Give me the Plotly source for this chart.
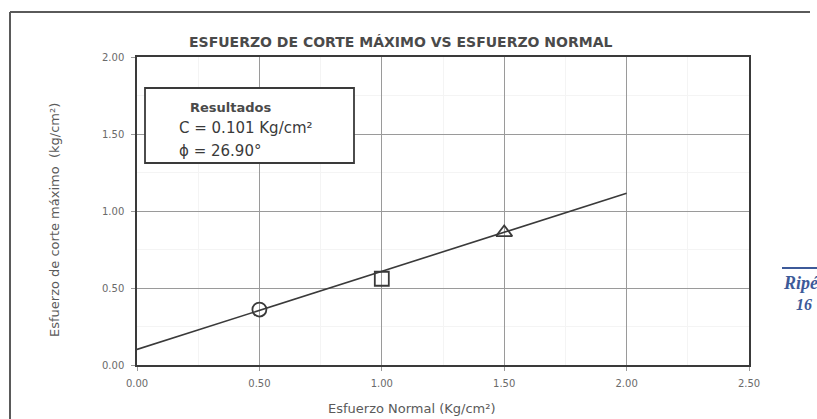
import math
import plotly.graph_objects as go

# Direct shear test results
normal_stress = [0.50, 1.00, 1.50]          # Kg/cm²
shear_stress = [0.36, 0.56, 0.86]           # Kg/cm²
symbols = ["circle-open", "square-open", "triangle-up-open"]

# Mohr-Coulomb envelope parameters
cohesion = 0.101        # Kg/cm²
phi_deg = 26.90         # degrees
envelope_x = [0.00, 2.00]

x_ticks = [0.00, 0.50, 1.00, 1.50, 2.00, 2.50]
y_ticks = [0.00, 0.50, 1.00, 1.50, 2.00]

tan_phi = math.tan(math.radians(phi_deg))
envelope_y = [cohesion + x * tan_phi for x in envelope_x]

W, H = 817, 419
L, R, T, B = 137, 68, 57, 54
pw, ph = W - L - R, H - T - B

def px(xp):
    return (xp - L) / pw

def py(yp):
    return (H - B - yp) / ph

fig = go.Figure()

fig.add_trace(go.Scatter(
    x=envelope_x, y=envelope_y, mode="lines",
    line=dict(color="#3a3a3a", width=1.6), hoverinfo="skip", showlegend=False,
))

for xv, yv, sym in zip(normal_stress, shear_stress, symbols):
    fig.add_trace(go.Scatter(
        x=[xv], y=[yv], mode="markers",
        marker=dict(symbol=sym, size=14, color="#3a3a3a", line=dict(width=1.8, color="#3a3a3a")),
        showlegend=False,
    ))

axis_common = dict(
    showgrid=True, gridcolor="#9a9a9a", gridwidth=1,
    showline=True, linecolor="#3a3a3a", linewidth=1.5, mirror=True,
    zeroline=False, ticks="outside", ticklen=4, tickcolor="#9a9a9a",
    tickfont=dict(family="DejaVu Sans", size=10, color="#6a6a6a"),
    minor=dict(showgrid=True, gridcolor="#f4f4f4", gridwidth=1),
)

fig.update_layout(
    width=W, height=H,
    margin=dict(l=L, r=R, t=T, b=B),
    paper_bgcolor="white", plot_bgcolor="white",
    xaxis=dict(range=[0, 2.5], tickvals=x_ticks, ticktext=[f"{v:.2f}" for v in x_ticks],
               ticklabelstandoff=4, **axis_common),
    yaxis=dict(range=[0, 2.0], tickvals=y_ticks, ticktext=[f"{v:.2f}" for v in y_ticks],
               ticklabelstandoff=5, **axis_common),
)
fig.update_xaxes(minor=dict(dtick=0.25))
fig.update_yaxes(minor=dict(dtick=0.25))

annotations = [
    dict(text="<b>ESFUERZO DE CORTE MÁXIMO VS ESFUERZO NORMAL</b>", x=px(401), y=py(42),
         font=dict(family="DejaVu Sans", size=14, color="#4a4a4a")),
    dict(text="Esfuerzo Normal (Kg/cm²)", x=px(412), y=py(408),
         font=dict(family="DejaVu Sans", size=13, color="#5a5a5a")),
    dict(text="Esfuerzo de corte máximo  (kg/cm²)", x=px(54), y=py(220), textangle=-90,
         font=dict(family="DejaVu Sans", size=13, color="#5a5a5a")),
    dict(text="<b>Resultados</b>", x=px(231), y=py(107),
         font=dict(family="DejaVu Sans", size=13, color="#4a4a4a")),
    dict(text=f"C = {cohesion:.3f} Kg/cm²", x=px(177), y=py(128), xanchor="left",
         font=dict(family="DejaVu Sans", size=15, color="#3a3a3a")),
    dict(text=f"ϕ = {phi_deg:.2f}°", x=px(177), y=py(151), xanchor="left",
         font=dict(family="DejaVu Sans", size=15, color="#3a3a3a")),
    dict(text="<b><i>Ripé</i></b>", x=px(781), y=py(283), xanchor="left",
         font=dict(family="Liberation Serif", size=18, color="#3d5a99")),
    dict(text="<b><i>16</i></b>", x=px(794), y=py(304), xanchor="left",
         font=dict(family="Liberation Serif", size=16, color="#3d5a99")),
]
for a in annotations:
    a.setdefault("xanchor", "center")
    fig.add_annotation(xref="paper", yref="paper", yanchor="middle", showarrow=False, **a)

shapes = [
    # results box
    dict(type="rect", x0=px(145), x1=px(354), y0=py(163), y1=py(88),
         line=dict(color="#3a3a3a", width=1.8), fillcolor="white", layer="above"),
    # outer sheet frame
    dict(type="line", x0=px(10), x1=px(810), y0=py(12), y1=py(12),
         line=dict(color="#5a5a5a", width=2)),
    dict(type="line", x0=px(10), x1=px(10), y0=py(12), y1=py(419),
         line=dict(color="#5a5a5a", width=2)),
    # stamp rule
    dict(type="line", x0=px(782), x1=px(817), y0=py(268), y1=py(268),
         line=dict(color="#3d5a99", width=2)),
]
for s in shapes:
    fig.add_shape(xref="paper", yref="paper", **s)

fig.write_html("out.html")
